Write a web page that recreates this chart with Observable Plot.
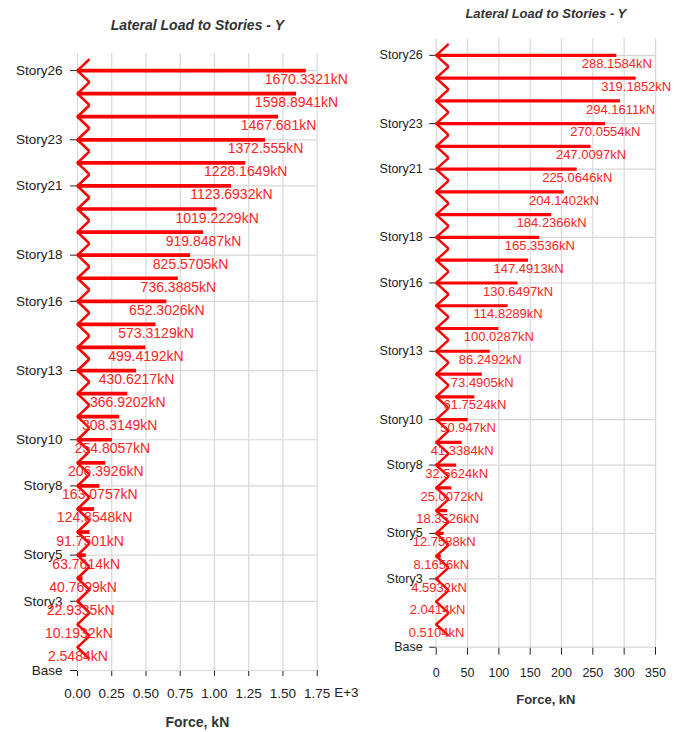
<!DOCTYPE html>
<html><head><meta charset="utf-8">
<script src="https://cdn.jsdelivr.net/npm/d3@7"></script>
<script src="https://cdn.jsdelivr.net/npm/@observablehq/plot@0.6"></script>
<style>
html,body{margin:0;padding:0;background:#fff;width:680px;height:732px;overflow:hidden}
#left,#right{position:absolute;top:0}
#left{left:0;width:360px;height:732px}
#right{left:340px;width:340px;height:732px}
</style></head><body>
<div id="left"></div><div id="right"></div>
<script>
const stories = ["Story26","Story25","Story24","Story23","Story22","Story21","Story20","Story19","Story18","Story17","Story16","Story15","Story14","Story13","Story12","Story11","Story10","Story9","Story8","Story7","Story6","Story5","Story4","Story3","Story2","Story1"];
const leftForces = [1670.3321,1598.8941,1467.681,1372.555,1228.1649,1123.6932,1019.2229,919.8487,825.5705,736.3885,652.3026,573.3129,499.4192,430.6217,366.9202,308.3149,254.8057,206.3926,163.0757,124.8548,91.7501,63.7614,40.7699,22.9335,10.1932,2.5484];
const rightForces = [288.1584,319.1852,294.1611,270.0554,247.0097,225.0646,204.1402,184.2366,165.3536,147.4913,130.6497,114.8289,100.0287,86.2492,73.4905,61.7524,50.947,41.3384,32.5624,25.0072,18.3526,12.7588,8.1656,4.5932,2.0414,0.5104];
const yTickLevels = [26,23,21,18,16,13,10,8,5,3,0];
const yTickLabels = ["Story26","Story23","Story21","Story18","Story16","Story13","Story10","Story8","Story5","Story3","Base"];
const leftXTicks = [0,250,500,750,1000,1250,1500,1750];
const leftXTickLabels = ["0.00","0.25","0.50","0.75","1.00","1.25","1.50","1.75"];
const rightXTicks = [0,50,100,150,200,250,300,350];
const rightXTickLabels = ["0","50","100","150","200","250","300","350"];
const title = "Lateral Load to Stories - Y";
const xLabel = "Force, kN";
const leftExponent = "E+3";
const unit = "kN";

function chevron(w, h) {
  return {draw(ctx) { ctx.moveTo(w, -h); ctx.lineTo(0, 0); ctx.lineTo(w, h); }};
}

function panel(c) {
  const rows = stories.map((s, i) => ({story: s, level: stories.length - i, force: c.forces[i]}));
  const marks = [
    Plot.ruleX(c.xTicks, {stroke: "#d8d8d8", strokeWidth: 1.2}),
    Plot.ruleY(yTickLevels, {stroke: "#d8d8d8", strokeWidth: 1.2}),
    Plot.ruleY(rows, {y: "level", x1: d => 0, x2: "force", stroke: "#ff0000", strokeWidth: c.lineWidth}),
    Plot.dot(rows, {x: d => 0, y: "level", symbol: chevron(c.chevW, c.chevH), stroke: "#ff0000", strokeWidth: c.zigWidth, strokeLinejoin: "round", fill: "none"}),
    Plot.text(rows, {x: "force", y: "level", text: d => d.force + unit, dy: c.labelDy, fill: "#ff2424", fontSize: c.valueFont}),
    Plot.text([title], {text: d => d, frameAnchor: "top", dy: c.titleDy, lineAnchor: "middle", fontWeight: "bold", fontStyle: "italic", fontSize: c.titleFont, fill: "#333"}),
    Plot.text([xLabel], {text: d => d, frameAnchor: "bottom", dy: c.xLabelDy, lineAnchor: "middle", fontWeight: "bold", fontSize: c.xLabelFont, fill: "#333"})
  ];
  if (c.exponent) marks.push(Plot.text([c.exponent], {text: d => d, frameAnchor: "bottom-right", textAnchor: "start", lineAnchor: "middle", dx: 17, dy: 22.5, fontSize: c.axisFont, fill: "#222"}));
  return Plot.plot({
    width: c.width, height: 732,
    marginTop: c.top, marginBottom: 732 - c.bottom, marginLeft: c.left, marginRight: c.width - c.right,
    style: {background: "transparent", overflow: "visible", fontFamily: "'Liberation Sans', Arial, sans-serif", fontSize: c.axisFont + "px", color: "#222"},
    x: {domain: [0, c.xTicks[c.xTicks.length - 1]], ticks: c.xTicks, tickFormat: d => c.xTickLabels[c.xTicks.indexOf(d)], tickSize: c.xTickSize, tickPadding: c.xTickPadding, label: null},
    y: {domain: [0, 26.74], ticks: yTickLevels, tickFormat: d => yTickLabels[yTickLevels.indexOf(d)], tickSize: c.yTickSize, tickPadding: c.yTickPadding, label: null},
    marks
  });
}

document.getElementById("left").appendChild(panel({
  forces: leftForces, xTicks: leftXTicks, xTickLabels: leftXTickLabels, exponent: leftExponent,
  width: 360, top: 53, bottom: 670, left: 77, right: 316.7,
  lineWidth: 3.7, zigWidth: 2.6, chevW: 12, chevH: 11.5, labelDy: 9, valueFont: 14,
  titleDy: -28, titleFont: 14, xLabelDy: 52, xLabelFont: 14, axisFont: 13.5,
  xTickSize: 6, xTickPadding: 12, yTickSize: 7, yTickPadding: 8
}));
document.getElementById("right").appendChild(panel({
  forces: rightForces, xTicks: rightXTicks, xTickLabels: rightXTickLabels, exponent: null,
  width: 340, top: 38, bottom: 646.7, left: 95.7, right: 315,
  lineWidth: 3.2, zigWidth: 2.4, chevW: 12.5, chevH: 11.4, labelDy: 8.5, valueFont: 13,
  titleDy: -25, titleFont: 13, xLabelDy: 52.3, xLabelFont: 13, axisFont: 12.5,
  xTickSize: 8, xTickPadding: 12.5, yTickSize: 6.5, yTickPadding: 7
}));
</script>
</body></html>
